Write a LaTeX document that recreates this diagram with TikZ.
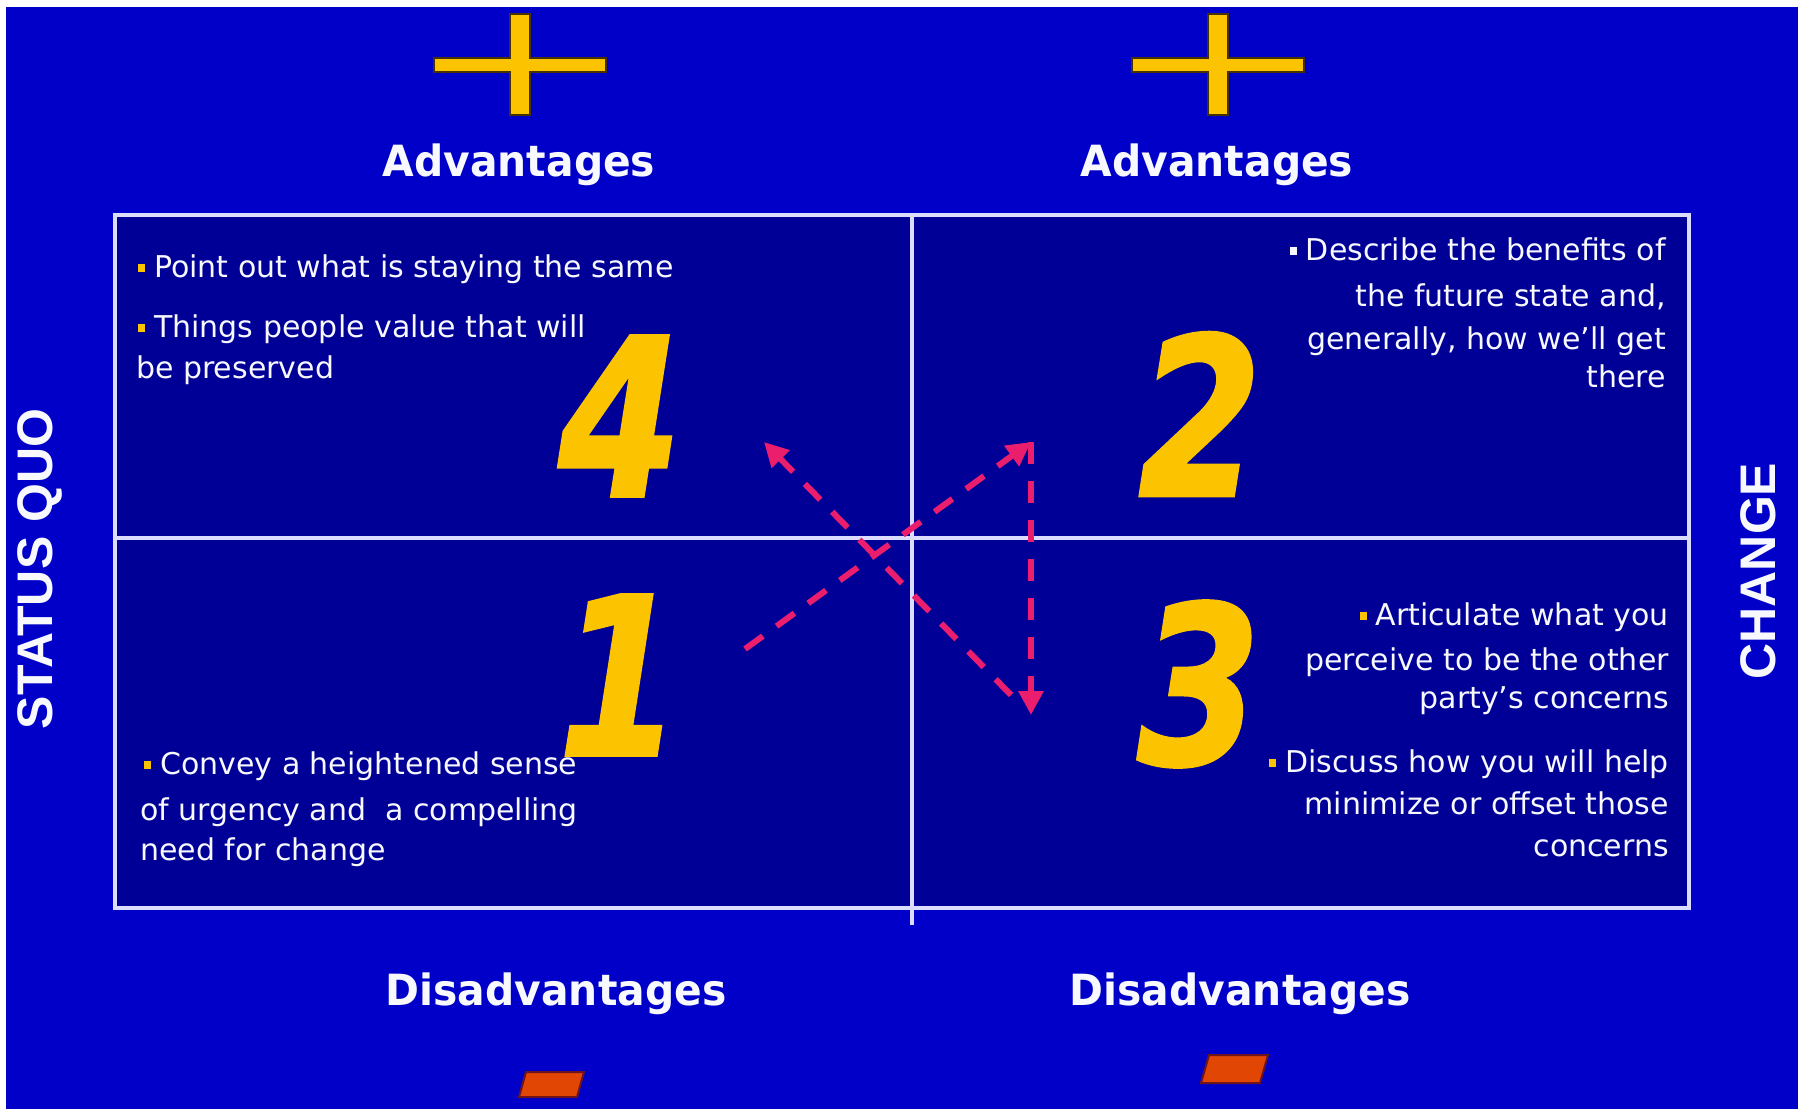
\documentclass[tikz,border=0pt]{standalone}
\usepackage{fontspec}
\setmainfont{DejaVu Sans}
\newfontfamily\lblfont{Liberation Sans}
\newfontfamily\digfont[FakeStretch=0.8,FakeBold=1.5]{DejaVu Sans}
\newfontfamily\hdfont[FakeStretch=0.95]{DejaVu Sans}
\usetikzlibrary{arrows.meta}
\definecolor{bgblue}{RGB}{0,0,200}
\definecolor{navy}{RGB}{0,0,150}
\definecolor{gridc}{RGB}{220,220,255}
\definecolor{txt}{RGB}{248,248,255}
\definecolor{gold}{RGB}{252,196,0}
\definecolor{plusedge}{RGB}{70,50,0}
\definecolor{pinkc}{RGB}{235,30,110}
\definecolor{minusc}{RGB}{225,70,5}
\definecolor{minusedge}{RGB}{110,20,30}
\newcommand\yb{\textcolor{gold}{\rule[5pt]{7pt}{8pt}}\hspace{9pt}}
\newcommand\wb{\textcolor{txt}{\rule[5pt]{7pt}{8pt}}\hspace{9pt}}
\begin{document}
\begin{tikzpicture}[x=1pt,y=-1pt,
  body/.style={text=txt,font=\fontsize{30}{36}\selectfont,inner sep=0pt},
  hdr/.style={text=txt,font=\hdfont\bfseries\fontsize{43}{50}\selectfont,inner sep=0pt,anchor=base},
  side/.style={text=txt,font=\lblfont\bfseries\fontsize{50}{60}\selectfont,inner sep=0pt,rotate=90},
  digit/.style={text=gold,font=\digfont\bfseries\itshape\fontsize{220}{220}\selectfont,inner sep=0pt},
  gridline/.style={draw=gridc,line width=3.5pt},
  arrowline/.style={draw=pinkc,line width=6pt,dash pattern=on 22pt off 17pt,-{Triangle[length=24pt,width=24pt]}},
  plussign/.style={fill=gold,draw=plusedge,line width=2pt,line join=miter},
  minussign/.style={fill=minusc,draw=minusedge,line width=2pt}]
\useasboundingbox (0,0) rectangle (1802,1109);
\fill[white] (0,0) rectangle (1802,1109);
\fill[bgblue] (6,7) rectangle (1798,1109);
% quadrant box
\fill[navy] (115,215) rectangle (1689,908);
\draw[gridline] (115,215) rectangle (1689,908);
\draw[gridline] (912,215) -- (912,925);
\draw[gridline] (115,538) -- (1689,538);
% plus signs
\foreach \cx in {520,1218}{
  \draw[plussign] (\cx-86,58) -- (\cx-10,58) -- (\cx-10,14) -- (\cx+10,14) -- (\cx+10,58) -- (\cx+86,58)
    -- (\cx+86,72) -- (\cx+10,72) -- (\cx+10,115) -- (\cx-10,115) -- (\cx-10,72) -- (\cx-86,72) -- cycle;
}
% minus signs
\draw[minussign] (526,1072) -- (584,1072) -- (577,1097) -- (519,1097) -- cycle;
\draw[minussign] (1209,1055) -- (1268,1055) -- (1260,1083) -- (1201,1083) -- cycle;
% headers
\node[hdr] (advl) at (519,176) {Advantages};
\node[hdr] (advr) at (1217,176) {Advantages};
\node[hdr] (disl) at (556,1005) {Disadvantages};
\node[hdr] (disr) at (1240,1005) {Disadvantages};
% side labels
\node[side] (sq) at (40,569) {STATUS QUO};
\node[side] (ch) at (1758,571) {CHANGE};
% digits
\node[digit] (n4) at (620,416) {4};
\node[digit] (n2) at (1200,414) {2};
\node[digit] (n1) at (620,675) {1};
\node[digit] (n3) at (1199,684) {3};
% arrows
\coordinate (a1s) at (745,649);
\coordinate (a1e) at (1031,442);
\coordinate (a2e) at (1031,715);
\coordinate (a3s) at (1011,695);
\coordinate (a3e) at (764,442);
\draw[arrowline] (a1s) -- (a1e);
\draw[arrowline] (a1e) -- (a2e);
\draw[arrowline] (a3s) -- (a3e);
% quadrant 4 text
\node[body,anchor=base west] (t4a) at (138,277) {\yb Point out what is staying the same};
\node[body,anchor=base west] (t4b) at (138,337) {\yb Things people value that will};
\node[body,anchor=base west] (t4c) at (136,378) {be preserved};
% quadrant 2 text
\node[body,anchor=base east] (t2a) at (1666,260) {\wb Describe the benefits of};
\node[body,anchor=base east] (t2b) at (1666,306) {the future state and,};
\node[body,anchor=base east] (t2c) at (1666,349) {generally, how we’ll get};
\node[body,anchor=base east] (t2d) at (1666,387) {there};
% quadrant 1 text
\node[body,anchor=base west] (t1a) at (144,774) {\yb Convey a heightened sense};
\node[body,anchor=base west] (t1b) at (140,820) {of urgency and~ a compelling};
\node[body,anchor=base west] (t1c) at (140,860) {need for change};
% quadrant 3 text
\node[body,anchor=base east] (t3a) at (1669,625) {\yb Articulate what you};
\node[body,anchor=base east] (t3b) at (1669,670) {perceive to be the other};
\node[body,anchor=base east] (t3c) at (1669,708) {party’s concerns};
\node[body,anchor=base east] (t3d) at (1669,772) {\yb Discuss how you will help};
\node[body,anchor=base east] (t3e) at (1669,814) {minimize or offset those};
\node[body,anchor=base east] (t3f) at (1669,856) {concerns};
\end{tikzpicture}
\end{document}
